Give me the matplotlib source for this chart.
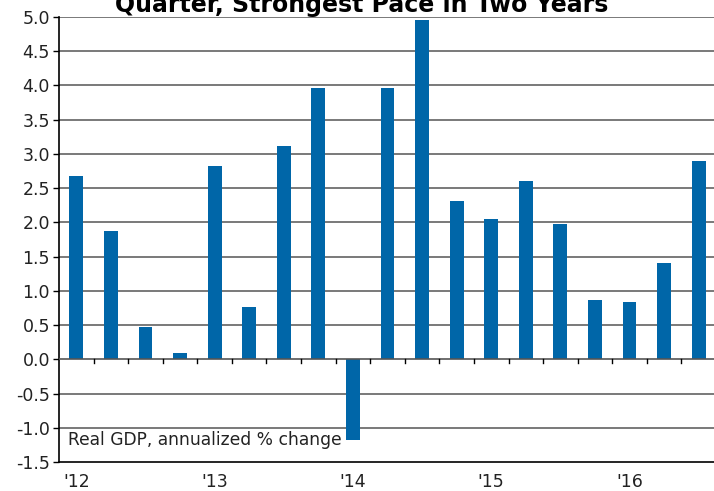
import matplotlib
matplotlib.use("Agg")
import matplotlib.pyplot as plt
import numpy as np

# real GDP, annualized % change, 2012Q1 - 2016Q3
quarters = ['12Q1', '12Q2', '12Q3', '12Q4',
            '13Q1', '13Q2', '13Q3', '13Q4',
            '14Q1', '14Q2', '14Q3', '14Q4',
            '15Q1', '15Q2', '15Q3', '15Q4',
            '16Q1', '16Q2', '16Q3']
gdp = [2.68, 1.87, 0.47, 0.09,
       2.82, 0.77, 3.12, 3.96,
       -1.18, 3.96, 4.96, 2.31,
       2.05, 2.61, 1.98, 0.87,
       0.83, 1.41, 2.90]
year_labels = ["'12", "'13", "'14", "'15", "'16"]

plt.rcParams['font.family'] = ['DejaVu Sans']

fig = plt.figure(figsize=(7.14, 4.91), dpi=100)
ax = fig.add_axes([59 / 714, 29 / 491, 657 / 714, 445 / 491])

x = np.arange(len(gdp))
ax.bar(x, gdp, width=0.4, color='#0066a8', zorder=3)

ax.set_xlim(-0.5, len(gdp) - 0.5)
ax.set_ylim(-1.5, 5.0)
yt = np.arange(-1.5, 5.01, 0.5)
ax.set_yticks(yt)
ax.set_yticklabels(['%.1f' % v for v in yt], fontsize=12.5, color='#222222')
ax.tick_params(axis='y', length=4.5, width=1, color='black', pad=2)

for v in yt:
    if abs(v) > 1e-9 and v > -1.5:
        ax.axhline(v, color='#555555', lw=1.1, zorder=1)
ax.axhline(0, color='#555555', lw=1.2, zorder=4)

# little ticks on the zero line between quarters
for b in x[:-1] + 0.5:
    ax.plot([b, b], [0, -0.06], color='black', lw=1, zorder=4)

ax.set_xticks(x[::4])
ax.set_xticklabels(year_labels, fontsize=12.5, color='#222222')
ax.tick_params(axis='x', length=0, pad=8)

for s in ['top', 'right']:
    ax.spines[s].set_visible(False)
ax.spines['left'].set_linewidth(1.2)
ax.spines['bottom'].set_linewidth(1.2)

ax.text(0.014, 0.05, 'Real GDP, annualized % change', transform=ax.transAxes,
        fontsize=12.3, color='#222222', va='center', ha='left')

fig.text(0.506, 1 - 12 / 491, 'Quarter, Strongest Pace in Two Years',
         ha='center', va='baseline', fontsize=17, fontweight='bold')

fig.savefig('out.png', dpi=100)
